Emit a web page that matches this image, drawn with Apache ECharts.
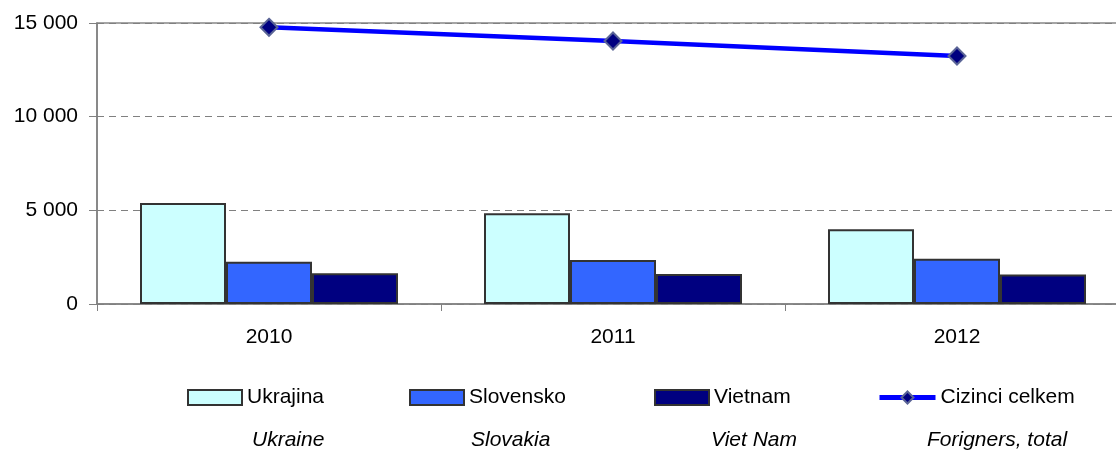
<!DOCTYPE html>
<html>
<head>
<meta charset="utf-8">
<script src="https://cdn.jsdelivr.net/npm/echarts@6/dist/echarts.min.js"></script>
<style>
html,body{margin:0;padding:0;background:#fff;}
#chart{width:1116px;height:450px;}
</style>
</head>
<body>
<div id="chart"></div>
<script>
const years = ['2010', '2011', '2012'];
const ukrajina = [5390, 4840, 3990];
const slovensko = [2260, 2350, 2420];
const vietnam = [1640, 1600, 1570];
const cizinciCelkem = [14770, 14040, 13240];
const seriesNames = ['Ukrajina', 'Slovensko', 'Vietnam', 'Cizinci celkem'];
const englishNames = ['Ukraine', 'Slovakia', 'Viet Nam', 'Forigners, total'];
const yTicks = [0, 5000, 10000, 15000];

const FONT = '"Liberation Sans", Arial, sans-serif';
const chart = echarts.init(document.getElementById('chart'), null, {renderer: 'canvas'});

const legendLefts = [187, 409, 654, 877];
const englishLefts = [252, 471, 711, 927];

const barBase = {
  type: 'bar',
  barGap: '0%',
  barCategoryGap: '25%',
  animation: false
};

const option = {
  animation: false,
  backgroundColor: '#ffffff',
  textStyle: {fontFamily: FONT},
  grid: {
    left: 97, top: 23, width: 1032, height: 281,
    outerBoundsMode: 'none',
    containLabel: false,
    show: true, borderColor: '#888888', borderWidth: 1.5, backgroundColor: 'transparent'
  },
  xAxis: {
    type: 'category',
    data: years,
    axisLine: {lineStyle: {color: '#808080', width: 1.5}},
    axisTick: {show: true, length: 7, lineStyle: {color: '#808080', width: 1}},
    axisLabel: {color: '#000', fontSize: 21, fontFamily: FONT, margin: 23},
    splitLine: {show: false}
  },
  yAxis: {
    type: 'value',
    min: yTicks[0],
    max: yTicks[yTicks.length - 1],
    interval: yTicks[1] - yTicks[0],
    axisLine: {show: true, lineStyle: {color: '#808080', width: 1.5}},
    axisTick: {show: true, length: 8, lineStyle: {color: '#808080', width: 1}},
    axisLabel: {
      color: '#000', fontSize: 21, fontFamily: FONT, margin: 19,
      formatter: v => String(v).replace(/\B(?=(\d{3})+(?!\d))/g, ' ')
    },
    splitLine: {show: true, lineStyle: {color: '#808080', width: 1, type: [7, 5]}}
  },
  legend: seriesNames.map((n, i) => ({
    data: [i < 3 ? {name: n, icon: 'rect'} : {name: n}],
    left: legendLefts[i],
    top: 387,
    padding: 0,
    itemWidth: i < 3 ? 54 : 56,
    itemHeight: 15,
    lineStyle: {width: 5},
    textStyle: {color: '#000', fontSize: 21, fontFamily: FONT},
    selectedMode: false
  })),
  graphic: englishNames.map((t, i) => ({
    type: 'text',
    left: englishLefts[i],
    top: 430,
    style: {text: t, fill: '#000', font: 'italic 21px "Liberation Sans", Arial, sans-serif'}
  })),
  series: [
    Object.assign({}, barBase, {
      name: seriesNames[0], data: ukrajina,
      itemStyle: {color: '#CCFFFF', borderColor: '#333333', borderWidth: 2}
    }),
    Object.assign({}, barBase, {
      name: seriesNames[1], data: slovensko,
      itemStyle: {color: '#3366FF', borderColor: '#333333', borderWidth: 2}
    }),
    Object.assign({}, barBase, {
      name: seriesNames[2], data: vietnam,
      itemStyle: {color: '#000080', borderColor: '#333333', borderWidth: 2}
    }),
    {
      type: 'line',
      name: seriesNames[3],
      data: cizinciCelkem,
      symbol: 'diamond',
      symbolSize: 17,
      lineStyle: {color: '#0000FF', width: 4.5},
      itemStyle: {color: '#000080', borderColor: '#5a6496', borderWidth: 2},
      z: 5,
      animation: false
    }
  ]
};
chart.setOption(option);
</script>
</body>
</html>
